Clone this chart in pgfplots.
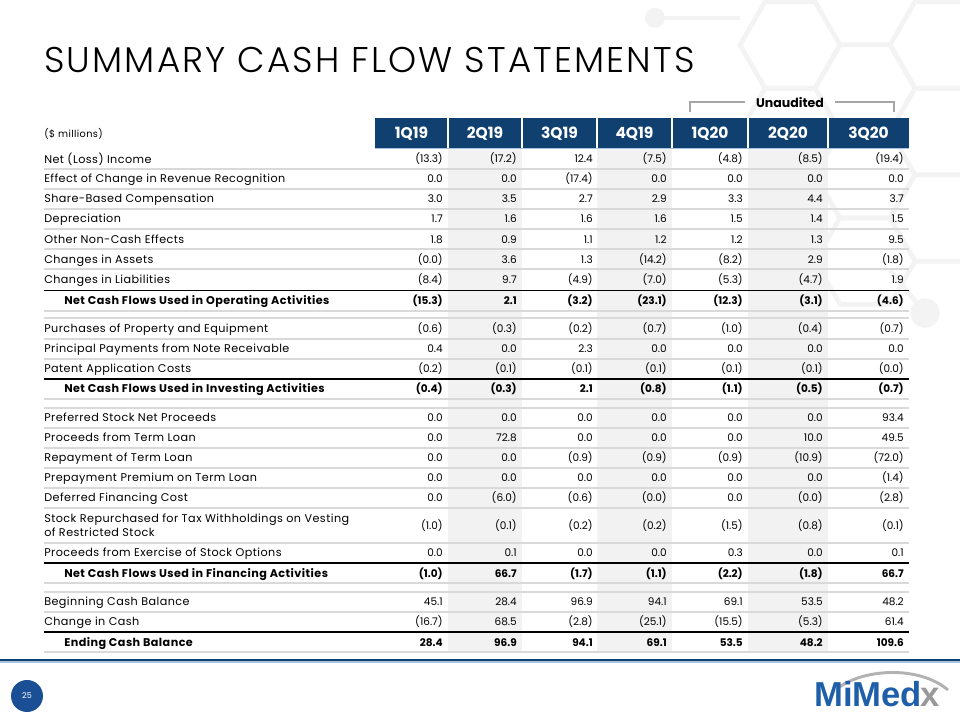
\documentclass[border=0pt]{standalone}
\usepackage{pgfplots}
\pgfplotsset{compat=1.18}
\usepackage{pgfplotstable}
\usepackage{fontspec}
\setmainfont{Poppins}
\newfontfamily\titlefont{Poppins}[UprightFont=* Light, LetterSpace=6]
\newfontfamily\labelfont{Poppins}[LetterSpace=4]
\newfontfamily\logofont{Liberation Sans}
\definecolor{navy}{HTML}{10406F}
\definecolor{pagecirc}{HTML}{1A4F96}
\definecolor{logoblue}{HTML}{1F5FAA}
\definecolor{rowline}{HTML}{D9D9D9}
\definecolor{colshade}{HTML}{F2F2F2}
\definecolor{brgray}{HTML}{A6A6A6}
\definecolor{lightblue}{HTML}{A9C4E0}
\definecolor{hexgray}{HTML}{F3F3F3}

% y = 720 - pixel row of the reference
\pgfplotstableread[col sep=comma]{
y,q1,q2,q3,q4,q5,q6,q7
561,-13.3,-17.2,12.4,-7.5,-4.8,-8.5,-19.4
541,0.0,0.0,-17.4,0.0,0.0,0.0,0.0
521,3.0,3.5,2.7,2.9,3.3,4.4,3.7
501,1.7,1.6,1.6,1.6,1.5,1.4,1.5
480.5,1.8,0.9,1.1,1.2,1.2,1.3,9.5
460,-0.0,3.6,1.3,-14.2,-8.2,2.9,-1.8
440,-8.4,9.7,-4.9,-7.0,-5.3,-4.7,1.9
391,-0.6,-0.3,-0.2,-0.7,-1.0,-0.4,-0.7
371,0.4,0.0,2.3,0.0,0.0,0.0,0.0
351,-0.2,-0.1,-0.1,-0.1,-0.1,-0.1,-0.0
302,0.0,0.0,0.0,0.0,0.0,0.0,93.4
282,0.0,72.8,0.0,0.0,0.0,10.0,49.5
262,0.0,0.0,-0.9,-0.9,-0.9,-10.9,-72.0
242,0.0,0.0,0.0,0.0,0.0,0.0,-1.4
222,0.0,-6.0,-0.6,-0.0,0.0,-0.0,-2.8
194,-1.0,-0.1,-0.2,-0.2,-1.5,-0.8,-0.1
167,0.0,0.1,0.0,0.0,0.3,0.0,0.1
118,45.1,28.4,96.9,94.1,69.1,53.5,48.2
98,-16.7,68.5,-2.8,-25.1,-15.5,-5.3,61.4
}\items

\pgfplotstableread[col sep=comma]{
y,q1,q2,q3,q4,q5,q6,q7
419.5,-15.3,2.1,-3.2,-23.1,-12.3,-3.1,-4.6
331,-0.4,-0.3,2.1,-0.8,-1.1,-0.5,-0.7
146,-1.0,66.7,-1.7,-1.1,-2.2,-1.8,66.7
77,28.4,96.9,94.1,69.1,53.5,48.2,109.6
}\totals

\def\cf#1#2\relax{\ifx-#1(#2)\else#1#2\fi}
\newcommand\valfont{\fontsize{7.875pt}{10.5pt}\selectfont}
\newcommand\labfont{\labelfont\fontsize{8.4pt}{10.5pt}\selectfont}
\newcommand\valcol[4]{%
  \addplot[draw=none, mark=none, point meta=explicit symbolic,
    nodes near coords={\edef\cftmp{\pgfplotspointmeta}\expandafter\cf\cftmp\relax},
    every node near coord/.append style={anchor=base east, inner sep=0pt, yshift=-2.76pt, font=#4}]
    table[x expr=#1, y=y, meta=#2]{#3};}
\newcommand\hexa[2]{\draw[hexgray, line width=3.5pt]
  (axis cs:{#1+50},{720-#2}) -- (axis cs:{#1+25},{720-#2+43.3}) -- (axis cs:{#1-25},{720-#2+43.3})
  -- (axis cs:{#1-50},{720-#2}) -- (axis cs:{#1-25},{720-#2-43.3}) -- (axis cs:{#1+25},{720-#2-43.3}) -- cycle;}
\newcommand\hl[2]{\draw[#2] (axis cs:44,{720-#1}) -- (axis cs:909,{720-#1});}

\begin{document}
\begin{tikzpicture}
\begin{axis}[
  scale only axis, width=720pt, height=540pt,
  xmin=0, xmax=960, ymin=0, ymax=720,
  axis on top,
  axis line style={draw=none}, major tick length=0pt, tick style={draw=none},
  clip=false,
  xtick={411.5,485,559.5,634.5,710,788,868.5},
  xticklabels={1Q19,2Q19,3Q19,4Q19,1Q20,2Q20,3Q20},
  xticklabel style={anchor=base, inner sep=0pt, yshift=436.2pt, text=white,
    font=\bfseries\fontsize{11.6pt}{14pt}\selectfont},
  ytick={561,541,521,501,480.5,460,440,419.5,391,371,351,331,302,282,262,242,222,194,167,146,118,98,77},
  yticklabels={
    {\strut Net (Loss) Income},
    {\strut Effect of Change in Revenue Recognition},
    {\strut Share-Based Compensation},
    {\strut Depreciation},
    {\strut Other Non-Cash Effects},
    {\strut Changes in Assets},
    {\strut Changes in Liabilities},
    {\strut\hspace*{15pt}\textbf{Net Cash Flows Used in Operating Activities}},
    {\strut Purchases of Property and Equipment},
    {\strut Principal Payments from Note Receivable},
    {\strut Patent Application Costs},
    {\strut\hspace*{15pt}\textbf{Net Cash Flows Used in Investing Activities}},
    {\strut Preferred Stock Net Proceeds},
    {\strut Proceeds from Term Loan},
    {\strut Repayment of Term Loan},
    {\strut Prepayment Premium on Term Loan},
    {\strut Deferred Financing Cost},
    {\strut Stock Repurchased for Tax Withholdings on Vesting\\\strut of Restricted Stock},
    {\strut Proceeds from Exercise of Stock Options},
    {\strut\hspace*{15pt}\textbf{Net Cash Flows Used in Financing Activities}},
    {\strut Beginning Cash Balance},
    {\strut Change in Cash},
    {\strut\hspace*{15pt}\textbf{Ending Cash Balance}}},
  yticklabel style={anchor=west, inner sep=0pt, xshift=33pt, yshift=-0.7pt, align=left,
    text=black, font=\labfont},
]
% background hexagons
\hexa{790}{45}\hexa{865}{88}\hexa{940}{45}
\hexa{790}{131.6}\hexa{865}{175}\hexa{940}{131.6}
\hexa{865}{261}\hexa{940}{218}
\draw[hexgray, line width=3.5pt] (axis cs:655,702) -- (axis cs:740,702);
\fill[hexgray] (axis cs:655,702) circle[radius=7.5pt];
\draw[hexgray, line width=3.5pt] (axis cs:925,407) -- (axis cs:890,450);
\fill[hexgray] (axis cs:925,407) circle[radius=11pt];
% title
\node[anchor=base west, inner sep=0pt, font=\titlefont\fontsize{26.8pt}{30pt}\selectfont]
  at (axis cs:44,647) {SUMMARY CASH FLOW STATEMENTS};
% unaudited bracket
\draw[brgray, line width=0.8pt] (axis cs:690,608) -- (axis cs:690,618) -- (axis cs:745,618);
\draw[brgray, line width=0.8pt] (axis cs:835,618) -- (axis cs:894,618) -- (axis cs:894,608);
\node[anchor=base, inner sep=0pt, font=\bfseries\fontsize{9.4pt}{11pt}\selectfont]
  at (axis cs:790,612) {Unaudited};
\node[anchor=west, inner sep=0pt, font=\labelfont\fontsize{7.3pt}{9pt}\selectfont]
  at (axis cs:44,586) {(\$ millions)};
% shaded columns
\fill[colshade] (axis cs:448,68) rectangle (axis cs:522,572);
\fill[colshade] (axis cs:597,68) rectangle (axis cs:672,572);
\fill[colshade] (axis cs:748,68) rectangle (axis cs:828,572);
% header bar
\fill[navy] (axis cs:375,572) rectangle (axis cs:909,602);
\draw[lightblue, line width=1.2pt] (axis cs:375,571.3) -- (axis cs:909,571.3);
\pgfplotsinvokeforeach{448,522,597,672,748,828}{
  \draw[white, line width=0.8pt] (axis cs:#1,572) -- (axis cs:#1,602);
}
% row rules
\pgfplotsinvokeforeach{169,189,209,229,249,269,311,318,339,359,399,408,428,448,468,488,508,543,583,592,612,652}{
  \hl{#1}{rowline, line width=1.1pt}
}
\pgfplotsinvokeforeach{290.5,379,563,632}{
  \hl{#1}{black, line width=1.2pt}
}
% values
\valcol{443}{q1}{\items}{\valfont}
\valcol{517}{q2}{\items}{\valfont}
\valcol{593}{q3}{\items}{\valfont}
\valcol{667}{q4}{\items}{\valfont}
\valcol{743}{q5}{\items}{\valfont}
\valcol{823}{q6}{\items}{\valfont}
\valcol{904}{q7}{\items}{\valfont}
\valcol{443}{q1}{\totals}{\bfseries\valfont}
\valcol{517}{q2}{\totals}{\bfseries\valfont}
\valcol{593}{q3}{\totals}{\bfseries\valfont}
\valcol{667}{q4}{\totals}{\bfseries\valfont}
\valcol{743}{q5}{\totals}{\bfseries\valfont}
\valcol{823}{q6}{\totals}{\bfseries\valfont}
\valcol{904}{q7}{\totals}{\bfseries\valfont}
% footer
\draw[navy, line width=1.8pt] (axis cs:0,60) -- (axis cs:960,60);
\draw[lightblue, line width=0.8pt] (axis cs:0,58) -- (axis cs:960,58);
\fill[pagecirc] (axis cs:27,24) circle[radius=12pt];
\node[text=white, font=\fontsize{6pt}{7pt}\selectfont] at (axis cs:27,24) {25};
\draw[gray!60, line width=2.2pt] (axis cs:838,32) .. controls (axis cs:865,52) and (axis cs:920,54) .. (axis cs:948,30);
\node[anchor=base west, inner sep=0pt, font=\logofont\bfseries\fontsize{26pt}{28pt}\selectfont]
  at (axis cs:814,13) {\textcolor{logoblue}{MiMed}\kern-1pt\textcolor{gray!80}{x}};
\coordinate (bl) at (axis cs:0,0);
\coordinate (tr) at (axis cs:960,720);
\end{axis}
\pgfresetboundingbox
\path (bl) rectangle (tr);
\end{tikzpicture}
\end{document}
